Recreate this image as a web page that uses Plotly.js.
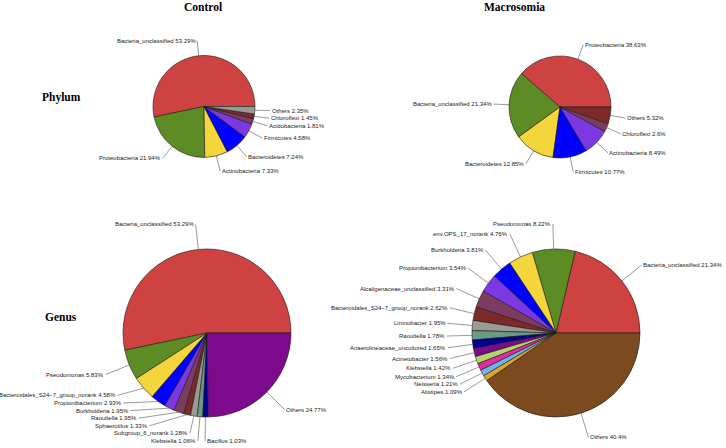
<!DOCTYPE html>
<html>
<head>
<meta charset="utf-8">
<script src="https://cdn.plot.ly/plotly-3.0.1.min.js"></script>
<style>
html,body{margin:0;padding:0;background:#ffffff;}
#chart{width:726px;height:448px;}
</style>
</head>
<body>
<div id="chart"></div>
<script>
// ---------- data ----------
const controlPhylumLabels = ["Bacteria_unclassified","Proteobacteria","Actinobacteria","Bacteroidetes","Firmicutes","Acidobacteria","Chloroflexi","Others"];
const controlPhylumValues = [53.29, 21.94, 7.33, 7.24, 4.58, 1.81, 1.45, 2.35];

const macroPhylumLabels = ["Proteobacteria","Bacteria_unclassified","Bacteroidetes","Firmicutes","Actinobacteria","Chloroflexi","Others"];
const macroPhylumValues = [38.63, 21.34, 12.85, 10.77, 8.49, 2.6, 5.32];

const controlGenusLabels = ["Bacteria_unclassified","Pseudomonas","Bacteroidales_S24\u22127_group_norank","Propionibacterium","Burkholderia","Raoultella","Sphaerotilus","Subgroup_6_norank","Klebsiella","Bacillus","Others"];
const controlGenusValues = [53.29, 5.83, 4.58, 2.93, 1.95, 1.95, 1.33, 1.28, 1.06, 1.03, 24.77];

const macroGenusLabels = ["Bacteria_unclassified","Pseudomonas","env.OPS_17_norank","Burkholderia","Propionibacterium","Alcaligenaceae_unclassified","Bacteroidales_S24\u22127_group_norank","Limnobacter","Raoultella","Anaerolineaceae_uncultured","Acinetobacter","Klebsiella","Mycobacterium","Neisseria","Alistipes","Others"];
const macroGenusValues = [21.34, 8.22, 4.76, 3.81, 3.54, 3.31, 2.62, 1.95, 1.78, 1.65, 1.56, 1.42, 1.34, 1.21, 1.09, 40.4];

const columnTitles = ["Control","Macrosomia"];
const rowTitles = ["Phylum","Genus"];

// ---------- style ----------
const palette = ['#CF4242','#5E8C24','#F4D53C','#0000FF','#7C38E3','#7C3C61','#7D2929','#9C9B93',
                 '#6B9B87','#00008E','#7D0A8D','#B6D46B','#DE2D9C','#6DB4EE','#E0A52B','#7C4A1F'];
const W = 726, H = 448;
const YMAX = 441, GAP = 7.6, LABEL_R = 1.3, MOVE_T = 8;

const pies = [
  {labels: controlPhylumLabels, values: controlPhylumValues, cx: 204, cy: 106.5, r: 51},
  {labels: macroPhylumLabels,   values: macroPhylumValues,   cx: 560, cy: 107,   r: 51},
  {labels: controlGenusLabels,  values: controlGenusValues,  cx: 207, cy: 333,   r: 84},
  {labels: macroGenusLabels,    values: macroGenusValues,    cx: 556, cy: 333,   r: 84}
];

function layoutLabels(p){
  const total = p.values.reduce((a,b)=>a+b,0);
  let cum = 0;
  const items = p.values.map((v,i)=>{
    const mid = (cum + v/2)/total*2*Math.PI; cum += v;
    const c = Math.cos(mid), s = Math.sin(mid);
    const R = LABEL_R*p.r;
    return {i, c, s, ex: p.cx + p.r*c, ey: p.cy - p.r*s,
            x: p.cx + R*c, y: p.cy - R*s, iy: p.cy - R*s, right: c >= -0.023};
  });
  [true,false].forEach(side=>{
    const g = items.filter(d=>d.right===side).sort((a,b)=>a.iy-b.iy);
    for(let k=g.length-1;k>=0;k--){
      const lim = (k===g.length-1) ? YMAX : g[k+1].y - GAP;
      g[k].y = Math.min(g[k].iy, lim);
    }
    g.forEach(d=>{
      if(d.iy - d.y > MOVE_T){
        const R = LABEL_R*p.r, dy = d.y - p.cy;
        if(Math.abs(dy) < R){
          const dx = Math.sqrt(R*R - dy*dy);
          d.x = p.cx + (d.right ? dx : -dx);
        }
      }
    });
  });
  return items;
}

const traces = [], annotations = [], shapes = [];
const px = x => x/W, py = y => 1 - y/H;

pies.forEach(p=>{
  const total = p.values.reduce((a,b)=>a+b,0);
  // counterclockwise ring that begins at 3 o'clock
  const rot = 90 - 360*p.values[0]/total;
  traces.push({
    type: 'pie',
    labels: p.labels,
    values: p.values,
    sort: false,
    direction: 'counterclockwise',
    rotation: rot,
    textinfo: 'none',
    hoverinfo: 'label+value',
    showlegend: false,
    marker: {colors: palette.slice(0, p.values.length), line: {color: '#1a1a1a', width: 0.6}},
    domain: {x: [px(p.cx - p.r), px(p.cx + p.r)], y: [py(p.cy + p.r), py(p.cy - p.r)]}
  });
  layoutLabels(p).forEach(d=>{
    shapes.push({
      type: 'path', xref: 'paper', yref: 'paper',
      path: `M ${px(d.ex)},${py(d.ey)} L ${px(d.x)},${py(d.y)}`,
      line: {color: '#555555', width: 0.6}
    });
    annotations.push({
      xref: 'paper', yref: 'paper',
      x: px(d.x + (d.right ? 0.5 : -0.5)), y: py(d.y),
      xanchor: d.right ? 'left' : 'right', yanchor: 'middle',
      showarrow: false, borderpad: 0,
      text: `${p.labels[d.i]} ${p.values[d.i]}%`,
      font: {family: 'Liberation Sans, Arial, Helvetica, sans-serif', size: 6, color: '#222222'}
    });
  });
});

const titleFont = {family: 'Liberation Serif, Times New Roman, serif', size: 11.5, color: '#000000'};
[[columnTitles[0], 203.5, 7.5], [columnTitles[1], 514.5, 7], [rowTitles[0], 61, 97], [rowTitles[1], 61, 316.5]].forEach(t=>{
  annotations.push({xref:'paper', yref:'paper', x: px(t[1]), y: py(t[2]), xanchor:'center', yanchor:'middle',
    showarrow:false, text: `<b>${t[0]}</b>`, font: titleFont});
});

Plotly.newPlot('chart', traces, {
  width: W, height: H,
  margin: {l:0, r:0, t:0, b:0},
  paper_bgcolor: '#ffffff', plot_bgcolor: '#ffffff',
  annotations, shapes
}, {displayModeBar: false, staticPlot: true});
</script>
</body>
</html>
